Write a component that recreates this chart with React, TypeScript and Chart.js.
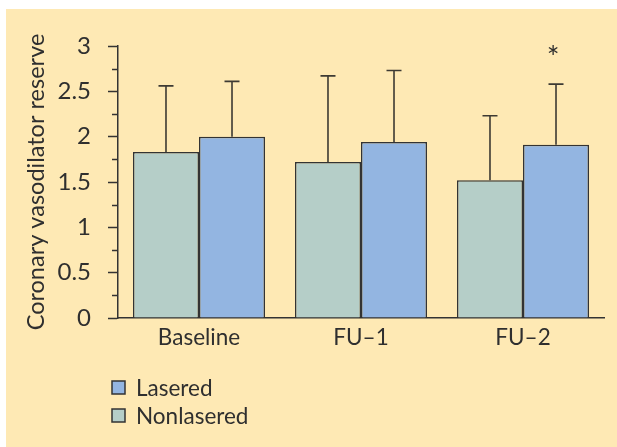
import React, { useEffect, useRef } from 'react';
import { Chart, registerables } from 'chart.js';

Chart.register(...registerables);

const categories = ['Baseline', 'FU\u20131', 'FU\u20132'];
const seriesNames = ['Nonlasered', 'Lasered'];
const nonlasered = [1.83, 1.72, 1.52];
const lasered = [2.0, 1.94, 1.91];
const nonlaseredUpper = [2.56, 2.67, 2.23];
const laseredUpper = [2.61, 2.73, 2.58];
const laseredMarks = ['', '', '*'];
const markValue = 2.95;
const yTitle = 'Coronary vasodilator reserve';
const yMin = 0;
const yMax = 3;
const yStep = 0.25;
const yLabelStep = 0.5;

const upperBounds = [nonlaseredUpper, laseredUpper];
const marks = [['', '', ''], laseredMarks];

const FONT = 'Lato';
const TEXT = '#2f2f2f';
const LINE = '#333333';
const BG = '#FEE9B4';
const COLORS = ['#B5CEC8', '#93B5E1'];

const isMajor = (v: number) => Math.abs(v / yLabelStep - Math.round(v / yLabelStep)) < 1e-6;

const panelPlugin = {
  id: 'panel',
  beforeDraw(chart: any) {
    const { ctx, width, height } = chart;
    ctx.save();
    ctx.fillStyle = '#ffffff';
    ctx.fillRect(0, 0, width, height);
    ctx.fillStyle = BG;
    ctx.fillRect(6, 9, width - 6, height - 9);
    ctx.restore();
  },
};

const extrasPlugin = {
  id: 'extras',
  afterDatasetsDraw(chart: any) {
    const { ctx } = chart;
    const yScale = chart.scales.y;
    ctx.save();
    chart.data.datasets.forEach((_ds: any, i: number) => {
      const meta = chart.getDatasetMeta(i);
      meta.data.forEach((el: any, j: number) => {
        const top = yScale.getPixelForValue(upperBounds[i][j]);
        ctx.strokeStyle = '#3d3a33';
        ctx.lineWidth = 1.6;
        ctx.beginPath();
        ctx.moveTo(el.x, el.y);
        ctx.lineTo(el.x, top);
        ctx.moveTo(el.x - 7.5, top);
        ctx.lineTo(el.x + 7.5, top);
        ctx.stroke();
        const m = marks[i][j];
        if (m) {
          ctx.fillStyle = TEXT;
          ctx.font = `30px ${FONT}`;
          ctx.textAlign = 'center';
          ctx.textBaseline = 'middle';
          ctx.fillText(m, el.x - 3, yScale.getPixelForValue(markValue) + 8);
        }
      });
    });
    ctx.restore();
  },
  afterDraw(chart: any) {
    const { ctx, chartArea } = chart;
    const yScale = chart.scales.y;
    ctx.save();
    // minor ticks
    ctx.strokeStyle = LINE;
    ctx.lineWidth = 1.5;
    yScale.ticks.forEach((t: any) => {
      if (!isMajor(t.value)) {
        const p = Math.round(yScale.getPixelForValue(t.value)) + 0.5;
        ctx.beginPath();
        ctx.moveTo(chartArea.left - 6, p);
        ctx.lineTo(chartArea.left, p);
        ctx.stroke();
      }
    });
    // legend (vertical, reversed order)
    const order = [1, 0];
    ctx.font = `22.5px ${FONT}`;
    ctx.textAlign = 'left';
    ctx.textBaseline = 'alphabetic';
    order.forEach((di, k) => {
      const y0 = 381 + k * 28;
      ctx.fillStyle = COLORS[di];
      ctx.fillRect(112, y0, 13, 13);
      ctx.strokeStyle = LINE;
      ctx.lineWidth = 1.5;
      ctx.strokeRect(112, y0, 13, 13);
      ctx.fillStyle = TEXT;
      ctx.fillText(chart.data.datasets[di].label, 136, y0 + 15);
    });
    ctx.restore();
  },
};

export default function App() {
  const ref = useRef<HTMLCanvasElement | null>(null);
  useEffect(() => {
    if (!ref.current) return;
    const chart = new Chart(ref.current, {
      type: 'bar',
      data: {
        labels: categories,
        datasets: [
          {
            label: seriesNames[0],
            data: nonlasered,
            backgroundColor: COLORS[0],
            borderColor: LINE,
            borderWidth: 1.5,
          },
          {
            label: seriesNames[1],
            data: lasered,
            backgroundColor: COLORS[1],
            borderColor: LINE,
            borderWidth: 1.5,
          },
        ],
      },
      options: {
        responsive: false,
        animation: false,
        devicePixelRatio: 1,
        datasets: { bar: { barPercentage: 1, categoryPercentage: 0.815 } },
        layout: { padding: { top: 46, right: 13, left: 0, bottom: 0 } },
        plugins: { legend: { display: false }, tooltip: { enabled: false } },
        scales: {
          x: {
            grid: { display: false, drawTicks: false },
            border: { display: true, color: LINE, width: 1.5 },
            ticks: { color: TEXT, font: { family: FONT, size: 22.5 }, padding: 6 },
            afterFit(scale: any) {
              scale.height = 129;
            },
          },
          y: {
            min: yMin,
            max: yMax,
            border: { display: true, color: LINE, width: 1.5 },
            grid: {
              drawOnChartArea: false,
              tickLength: 10,
              tickWidth: 1.5,
              tickColor: (c: any) => (isMajor(c.tick.value) ? LINE : 'rgba(0,0,0,0)'),
            },
            ticks: {
              stepSize: yStep,
              autoSkip: false,
              color: TEXT,
              font: { family: FONT, size: 24 },
              padding: 17,
              callback: (v: any) => (isMajor(Number(v)) ? String(Number(v)) : ''),
            },
            title: {
              display: true,
              text: yTitle,
              color: TEXT,
              font: { family: FONT, size: 23.5 },
              padding: { top: 22, bottom: 0 },
            },
            afterFit(scale: any) {
              scale.width = 118;
            },
          },
        },
      },
      plugins: [panelPlugin, extrasPlugin],
    });
    return () => chart.destroy();
  }, []);
  return (
    <div style={{ position: 'fixed', left: 0, top: 0, width: 617, height: 447 }}>
      <canvas ref={ref} width={617} height={447} style={{ display: 'block' }} />
    </div>
  );
}
